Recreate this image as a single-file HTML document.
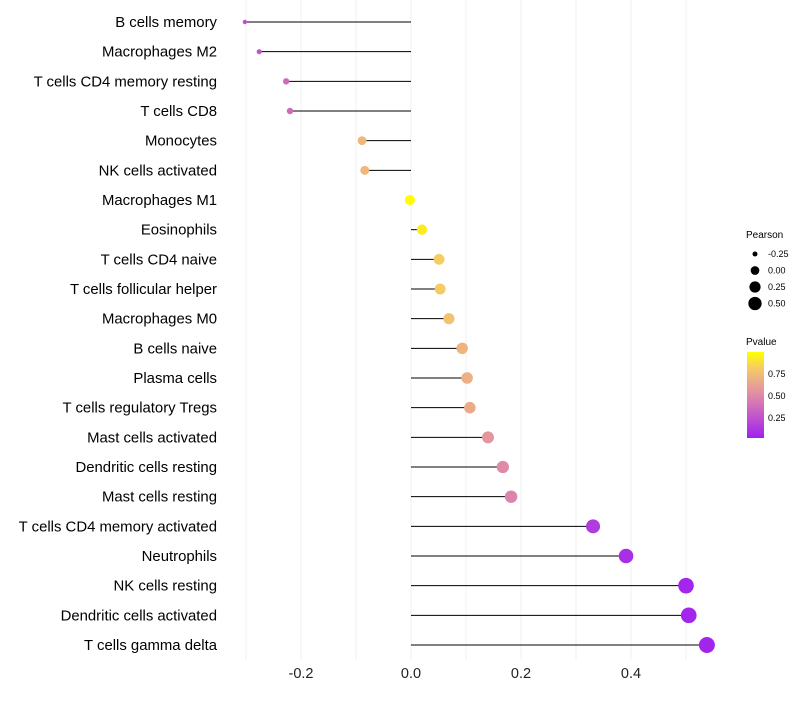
<!DOCTYPE html>
<html><head><meta charset="utf-8"><style>
body{margin:0;background:#fff;font-family:"Liberation Sans",sans-serif}
</style></head><body>
<svg id="c" width="800" height="700" xmlns="http://www.w3.org/2000/svg" font-family="Liberation Sans, sans-serif">
<defs><linearGradient id="pg" x1="0" y1="1" x2="0" y2="0">
<stop offset="0" stop-color="#A020F0"/><stop offset="0.5" stop-color="#E08AA8"/><stop offset="0.8" stop-color="#F5C86A"/><stop offset="1" stop-color="#FFFF00"/></linearGradient></defs>
<g id="grid"></g><g id="marks"></g><g id="labels"></g><g id="ticks"></g>
<g font-size="9" fill="#000">
<text x="746" y="238" font-size="10">Pearson</text>
<text x="746" y="345" font-size="10">Pvalue</text>
<rect x="747" y="352" width="17" height="86" fill="url(#pg)"/>
<text x="768" y="377">0.75</text><text x="768" y="399">0.50</text><text x="768" y="421">0.25</text>
</g>
<g id="sizeleg"></g>
</svg>
<script>
const categories=["B cells memory","Macrophages M2","T cells CD4 memory resting","T cells CD8","Monocytes","NK cells activated","Macrophages M1","Eosinophils","T cells CD4 naive","T cells follicular helper","Macrophages M0","B cells naive","Plasma cells","T cells regulatory  Tregs ","Mast cells activated","Dendritic cells resting","Mast cells resting","T cells CD4 memory activated","Neutrophils","NK cells resting","Dendritic cells activated","T cells gamma delta"];
const pearson=[-0.302,-0.276,-0.227,-0.22,-0.089,-0.084,-0.002,0.02,0.051,0.053,0.069,0.093,0.102,0.107,0.14,0.167,0.182,0.331,0.391,0.5,0.505,0.538];
const pvalue=[0.22,0.25,0.35,0.36,0.72,0.72,0.99,0.93,0.82,0.81,0.77,0.7,0.68,0.66,0.56,0.5,0.47,0.13,0.07,0.03,0.03,0.02];
const xTicks=[-0.2,0,0.2,0.4];
const xTickLabels=["-0.2","0.0","0.2","0.4"];
const minorGrid=[-0.3,-0.1,0.1,0.3,0.5];
const sizeVals=[-0.25,0,0.25,0.5];
const sizeLabels=["-0.25","0.00","0.25","0.50"];
const NS="http://www.w3.org/2000/svg";
const X=v=>411+v*550, Y=i=>22+i*(623/21);
const R=v=>Math.sqrt(Math.max(2.5,26+70*v));
function col(p){const s=[[0,[160,32,240]],[0.5,[224,138,168]],[0.8,[245,200,106]],[1,[255,255,0]]];
for(let k=1;k<s.length;k++){if(p<=s[k][0]){const t=(p-s[k-1][0])/(s[k][0]-s[k-1][0]);const a=s[k-1][1],b=s[k][1];return `rgb(${a.map((x,j)=>Math.round(x+(b[j]-x)*t)).join(",")})`;}}return "rgb(255,255,0)";}
function mk(t,a,p){const e=document.createElementNS(NS,t);for(const k in a)e.setAttribute(k,a[k]);p.appendChild(e);return e;}
const g=document.getElementById('grid');
[...xTicks,...minorGrid].forEach(v=>{const l=mk('line',{x1:X(v),x2:X(v),y1:0,y2:660,stroke:'#f2f2f2','stroke-width':1},g);

});
const m=document.getElementById('marks'),lb=document.getElementById('labels');
categories.forEach((c,i)=>{const y=Y(i);
const l=mk('line',{x1:X(0),x2:X(pearson[i]),y1:y,y2:y,stroke:'#000','stroke-width':1},m);


const d=mk('circle',{cx:X(pearson[i]),cy:y,r:R(pearson[i]),fill:col(pvalue[i])},m);


const t=mk('text',{x:217,y:y+5,'text-anchor':'end','font-size':14.9,fill:'#000'},lb);t.textContent=c;

});
const tk=document.getElementById('ticks');
xTicks.forEach((v,i)=>{const t=mk('text',{x:X(v),y:678,'text-anchor':'middle','font-size':14.5,fill:'#222'},tk);t.textContent=xTickLabels[i];

});
const sl=document.getElementById('sizeleg');
sizeVals.forEach((v,i)=>{const y=254+i*16.5;
const c=mk('circle',{cx:755,cy:y,r:R(v)*0.85,fill:'#000'},sl);


const t=mk('text',{x:768,y:y+3,'font-size':9,fill:'#000'},sl);t.textContent=sizeLabels[i];

});
</script>
</body></html>
